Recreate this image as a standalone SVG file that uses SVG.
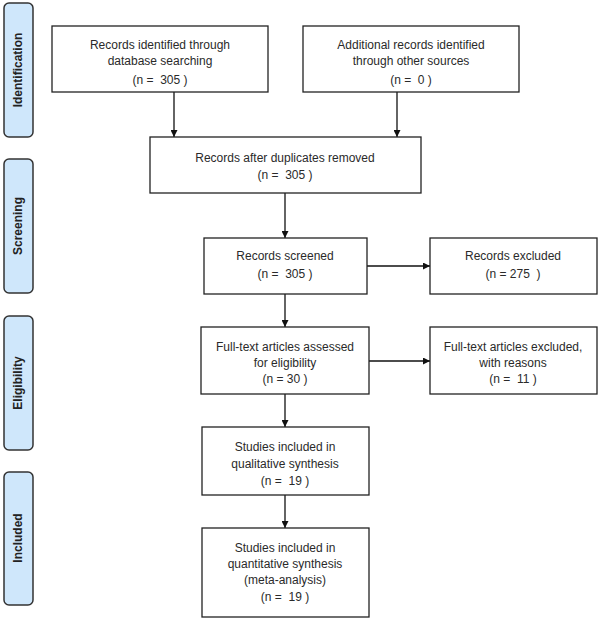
<svg xmlns="http://www.w3.org/2000/svg" width="600" height="620" viewBox="0 0 600 620">
<style>
.box{fill:#fff;stroke:#222;stroke-width:1.3}
.lab{fill:#cfe7fb;stroke:#333;stroke-width:1.5}
.t{font-family:"Liberation Sans",Arial,sans-serif;font-size:12px;fill:#2a2a2a;text-anchor:middle;white-space:pre}
.lt{font-family:"Liberation Sans",Arial,sans-serif;font-size:12px;font-weight:bold;fill:#222;text-anchor:middle}
.c{stroke:#111;stroke-width:1.3;fill:none;marker-end:url(#ah)}
</style>
<defs>
<marker id="ah" viewBox="0 0 10 10" refX="10" refY="5" markerWidth="7" markerHeight="7" markerUnits="userSpaceOnUse" orient="auto">
<path d="M0,0 L10,5 L0,10 z" fill="#111"/>
</marker>
</defs>
<rect width="600" height="620" fill="#fff"/>
<g id="phase-identification">
<rect class="lab" x="4" y="3" width="29" height="134" rx="5"/>
<text class="lt" transform="translate(22,70) rotate(-90)">Identification</text>
</g>
<g id="phase-screening">
<rect class="lab" x="4" y="159" width="29" height="134" rx="5"/>
<text class="lt" transform="translate(22,226) rotate(-90)">Screening</text>
</g>
<g id="phase-eligibility">
<rect class="lab" x="4" y="316" width="29" height="134" rx="5"/>
<text class="lt" transform="translate(22,383) rotate(-90)">Eligibility</text>
</g>
<g id="phase-included">
<rect class="lab" x="4" y="472" width="29" height="133" rx="5"/>
<text class="lt" transform="translate(22,538) rotate(-90)">Included</text>
</g>
<g id="connectors">
<line class="c" x1="174" y1="92" x2="174" y2="137"/>
<line class="c" x1="397" y1="92" x2="397" y2="137"/>
<line class="c" x1="285" y1="193" x2="285" y2="238"/>
<line class="c" x1="367" y1="266" x2="430" y2="266"/>
<line class="c" x1="285" y1="294" x2="285" y2="327"/>
<line class="c" x1="369" y1="361" x2="430" y2="361"/>
<line class="c" x1="285" y1="394" x2="285" y2="427"/>
<line class="c" x1="285" y1="495" x2="285" y2="528"/>
</g>
<g id="db-search">
<rect class="box" x="52" y="26" width="216" height="66"/>
<text class="t" x="160" y="49">Records identified through</text>
<text class="t" x="160" y="65">database searching</text>
<text class="t" x="160" y="84">(n =  305 )</text>
</g>
<g id="other-sources">
<rect class="box" x="303" y="26" width="216" height="66"/>
<text class="t" x="411" y="49">Additional records identified</text>
<text class="t" x="411" y="65">through other sources</text>
<text class="t" x="411" y="84">(n =  0 )</text>
</g>
<g id="after-duplicates">
<rect class="box" x="150" y="137" width="271" height="56"/>
<text class="t" x="285" y="162">Records after duplicates removed</text>
<text class="t" x="285" y="179">(n =  305 )</text>
</g>
<g id="screened">
<rect class="box" x="204" y="238" width="163" height="56"/>
<text class="t" x="285" y="260">Records screened</text>
<text class="t" x="285" y="278">(n =  305 )</text>
</g>
<g id="excluded">
<rect class="box" x="430" y="238" width="167" height="56"/>
<text class="t" x="513" y="260">Records excluded</text>
<text class="t" x="513" y="278">(n = 275  )</text>
</g>
<g id="fulltext-assessed">
<rect class="box" x="201" y="327" width="168" height="67"/>
<text class="t" x="285" y="351">Full-text articles assessed</text>
<text class="t" x="285" y="367">for eligibility</text>
<text class="t" x="285" y="383">(n = 30 )</text>
</g>
<g id="fulltext-excluded">
<rect class="box" x="430" y="327" width="167" height="67"/>
<text class="t" x="513" y="351">Full-text articles excluded,</text>
<text class="t" x="513" y="367">with reasons</text>
<text class="t" x="513" y="383">(n =  11 )</text>
</g>
<g id="qualitative">
<rect class="box" x="202" y="427" width="167" height="68"/>
<text class="t" x="285" y="451">Studies included in</text>
<text class="t" x="285" y="468">qualitative synthesis</text>
<text class="t" x="285" y="485">(n =  19 )</text>
</g>
<g id="quantitative">
<rect class="box" x="202" y="528" width="167" height="89"/>
<text class="t" x="285" y="552">Studies included in</text>
<text class="t" x="285" y="568">quantitative synthesis</text>
<text class="t" x="285" y="584">(meta-analysis)</text>
<text class="t" x="285" y="601">(n =  19 )</text>
</g>
</svg>
